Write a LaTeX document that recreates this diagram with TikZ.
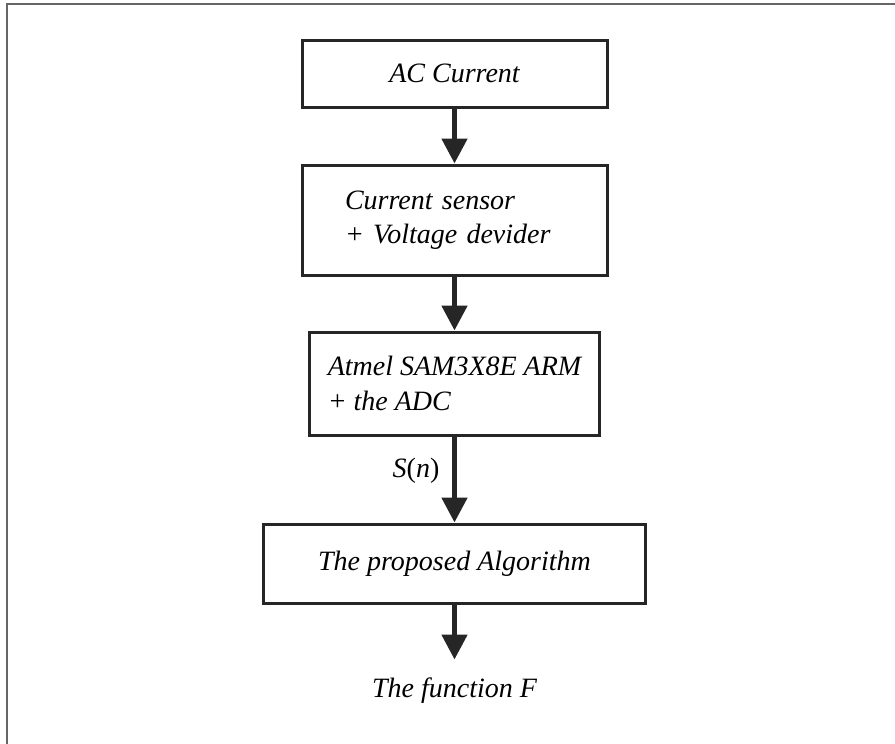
\documentclass[tikz,border=0pt]{standalone}
\usepackage{fontspec}
\setmainfont{Liberation Serif}
\usetikzlibrary{arrows.meta,positioning}
\tikzset{
  box/.style={rectangle, draw=black!85, line width=1.5pt, align=left,
              font=\fontsize{14}{17.25}\selectfont\itshape, fill=white},
  arrow/.style={-{Triangle[length=12.5pt, width=12.5pt]}, line width=2.5pt, black!85},
  lbl/.style={font=\fontsize{14}{17.25}\selectfont\itshape, text=black},
  frameline/.style={line width=1pt, black!60}
}

\begin{document}
\begin{tikzpicture}[node distance=27.5pt]
  \useasboundingbox (0,0) rectangle (447.5pt,-372pt);
  \draw[frameline] (3.25pt,-372pt) -- (3.25pt,-2pt) -- (447.5pt,-2pt);
  \node[box, minimum width=152.5pt, minimum height=33.5pt] (ac) at (227.25pt,-36.75pt) {AC Current};
  \node[box, text width=109.5pt, inner xsep=21.5pt, minimum height=55pt, below=of ac] (sensor) {Current sensor\\+ Voltage devider};
  \node[box, minimum width=145pt, minimum height=51.5pt, below=27pt of sensor] (mcu) {Atmel SAM3X8E ARM\\+ the ADC};
  \node[box, minimum width=191pt, minimum height=39.5pt, below=43pt of mcu] (algo) {The proposed Algorithm};
  \node[lbl, inner ysep=9pt, below=27.5pt of algo] (fn) {The function F};
  \draw[arrow] (ac) -- (sensor); \draw[arrow] (sensor) -- (mcu);
  \draw[arrow] (mcu) -- node[lbl, left=3pt, pos=0.4] {S\textup{(}n\textup{)}} (algo);
  \draw[arrow] (algo) -- (fn);
\end{tikzpicture}
\end{document}
